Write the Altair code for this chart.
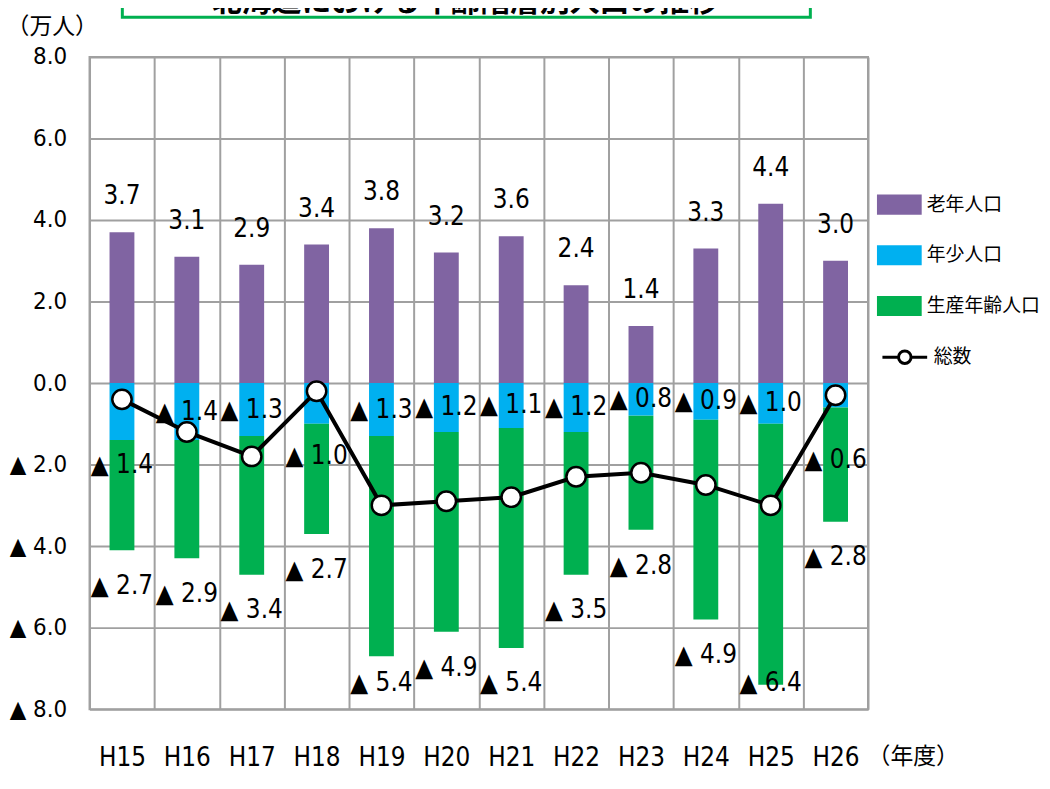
import altair as alt
import pandas as pd

# ---------------- data ----------------
years = ["H15", "H16", "H17", "H18", "H19", "H20", "H21", "H22", "H23", "H24", "H25", "H26"]
elderly = [3.7, 3.1, 2.9, 3.4, 3.8, 3.2, 3.6, 2.4, 1.4, 3.3, 4.4, 3.0]      # 老年人口 (increase)
youth = [1.4, 1.4, 1.3, 1.0, 1.3, 1.2, 1.1, 1.2, 0.8, 0.9, 1.0, 0.6]        # 年少人口 (decrease, ▲)
working = [2.7, 2.9, 3.4, 2.7, 5.4, 4.9, 5.4, 3.5, 2.8, 4.9, 6.4, 2.8]      # 生産年齢人口 (decrease, ▲)
total = [-0.4, -1.2, -1.8, -0.2, -3.0, -2.9, -2.8, -2.3, -2.2, -2.5, -3.0, -0.3]  # 総数

series_names = ["老年人口", "年少人口", "生産年齢人口"]
total_name = "総数"
series_colors = ["#8064a2", "#00b0f0", "#00b050"]
y_ticks = [-8, -6, -4, -2, 0, 2, 4, 6, 8]
title_text = "北海道における年齢階層別人口の推移"

NUM_FONT = "Liberation Sans Narrow, Arial Narrow, DejaVu Sans Condensed, Noto Sans CJK JP"
JP_FONT = "Noto Sans CJK JP"
GRID = "#a0a0a0"

# ---------------- tables ----------------
bar_rows = []
for i, yr in enumerate(years):
    bar_rows.append({"year": yr, "series": series_names[0], "lo": 0.0, "hi": elderly[i]})
    bar_rows.append({"year": yr, "series": series_names[1], "lo": 0.0, "hi": -youth[i]})
    bar_rows.append({"year": yr, "series": series_names[2], "lo": -youth[i], "hi": -(youth[i] + working[i])})
bars_df = pd.DataFrame(bar_rows)

# label anchors (in data units), derived from the values above
young_y = []
for i in range(len(years)):
    c = -youth[i] / 2
    young_y.append(total[i] - 1.6 if abs(total[i] - c) < 0.45 else c)
work_y = [max(-(a + b) - 0.88, -7.35) for a, b in zip(youth, working)]

lab_df = pd.DataFrame({
    "year": years,
    "old_y": elderly,
    "old_t": [f"{v:.1f}" for v in elderly],
    "young_y": young_y,
    "young_t": ["▲ " + f"{v:.1f}" for v in youth],
    "work_y": work_y,
    "work_t": ["▲ " + f"{v:.1f}" for v in working],
})
line_df = pd.DataFrame({"year": years, "total": total, "name": [total_name] * len(years)})
deco_df = pd.DataFrame({"t": [title_text]})

# ---------------- encodings ----------------
x_scale = alt.Scale(domain=years, paddingInner=0, paddingOuter=0)
y_scale = alt.Scale(domain=[-8, 8], nice=False, zero=False)

x_axis = alt.Axis(
    title="（年度）", labelAngle=0, tickBand="extent", grid=True, ticks=False,
    domain=False, gridColor=GRID, gridWidth=2,
    labelFont=NUM_FONT, labelFontSize=26, labelColor="black", labelBaseline="middle", labelPadding=49,
    titleFont=JP_FONT, titleFontSize=23, titleFontWeight="normal", titleColor="black",
    titleAngle=0, titleAlign="center", titleBaseline="middle", titleX=828, titleY=48,
)
y_axis = alt.Axis(
    title="（万人）", values=y_ticks, grid=True, ticks=False, domain=False,
    gridColor=GRID, gridWidth=2,
    labelExpr="datum.value < 0 ? '▲ ' + format(-datum.value, '.1f') : format(datum.value, '.1f')",
    labelFont=NUM_FONT, labelFontSize=24, labelColor="black", labelPadding=23,
    titleFont=JP_FONT, titleFontSize=23, titleFontWeight="normal", titleColor="black",
    titleAngle=0, titleAlign="center", titleBaseline="middle", titleX=-38, titleY=-31,
)

RECT_PATH = "M-1,-0.45L1,-0.45L1,0.45L-1,0.45Z"
LINE_PATH = "M-1,0L-0.28,0M0.28,0L1,0M0.28,0A0.28,0.28 0 1,1 -0.28,0A0.28,0.28 0 1,1 0.28,0Z"

X = alt.X("year:N", sort=years, scale=x_scale, axis=x_axis)

def Y(field):
    return alt.Y(field, scale=y_scale, axis=y_axis)

bars = alt.Chart(bars_df).mark_bar(size=25).encode(
    x=X,
    y=Y("lo:Q"),
    y2="hi:Q",
    color=alt.Color(
        "series:N",
        scale=alt.Scale(domain=series_names, range=series_colors),
        legend=alt.Legend(
            title=None, orient="none", legendX=792, legendY=126, padding=0,
            symbolType=RECT_PATH, symbolSize=2025, symbolStrokeWidth=0,
            labelFont=JP_FONT, labelFontSize=19, labelColor="black", labelOffset=5, rowPadding=18,
        ),
    ),
)

line = alt.Chart(line_df).mark_line(color="black", strokeWidth=4).encode(
    x=X,
    y=Y("total:Q"),
)

points = alt.Chart(line_df).mark_point(
    filled=True, fill="white", strokeWidth=2.5, size=380, opacity=1
).encode(
    x=X,
    y=Y("total:Q"),
    stroke=alt.Stroke(
        "name:N",
        scale=alt.Scale(domain=[total_name], range=["black"]),
        legend=alt.Legend(
            title=None, orient="none", legendX=796, legendY=278, padding=0,
            symbolType=LINE_PATH, symbolSize=2025, symbolStrokeWidth=3,
            symbolFillColor="white", symbolOpacity=1,
            labelFont=JP_FONT, labelFontSize=19, labelColor="black", labelOffset=5,
        ),
    ),
)

def text_layer(ycol, tcol, dy):
    return alt.Chart(lab_df).mark_text(
        font=NUM_FONT, fontSize=26, color="black", dy=dy, baseline="middle", align="center"
    ).encode(
        x=X,
        y=Y(f"{ycol}:Q"),
        text=f"{tcol}:N",
    )

old_text = text_layer("old_y", "old_t", -36)
young_text = text_layer("young_y", "young_t", 0)
work_text = text_layer("work_y", "work_t", 0)

title_box = alt.Chart(deco_df).mark_rect(fill="transparent", stroke="#00b050", strokeWidth=3).encode(
    x=alt.value(33), x2=alt.value(725), y=alt.value(-90), y2=alt.value(-40)
)
title_txt = alt.Chart(deco_df).mark_text(
    font=JP_FONT, fontSize=30, fontWeight="bold", color="black", baseline="alphabetic", align="center"
).encode(x=alt.value(378), y=alt.value(-46), text="t:N")

chart = alt.layer(
    bars, line, points, old_text, young_text, work_text, title_box, title_txt
).properties(
    width=783, height=656,
    padding={"left": 82, "top": 47, "right": 175, "bottom": 65},
    autosize=alt.AutoSizeParams(type="none"),
    background="white",
).configure_view(stroke=GRID, strokeWidth=2)

chart.save("out.html", embed_options={"renderer": "svg", "actions": False})
